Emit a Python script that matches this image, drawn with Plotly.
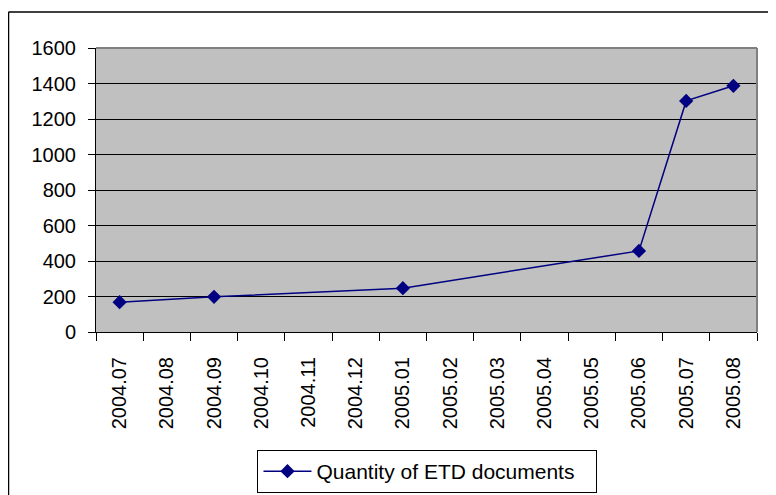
import plotly.graph_objects as go

categories = ["2004.07", "2004.08", "2004.09", "2004.10", "2004.11", "2004.12",
              "2005.01", "2005.02", "2005.03", "2005.04", "2005.05", "2005.06",
              "2005.07", "2005.08"]
months = ["2004.07", "2004.09", "2005.01", "2005.06", "2005.07", "2005.08"]
quantity = [168, 198, 247, 457, 1302, 1387]
series_name = "Quantity of ETD documents"

FONT = "Arial, 'Liberation Sans', sans-serif"
NAVY = "#000080"

# page body has an 8px margin; figure is sized to compensate
L, T, PW, PH = 88, 40, 661, 284

def px(x):
    return (x - L) / PW

def py(y):
    return (T + PH - y) / PH

fig = go.Figure()
fig.add_trace(go.Scatter(
    x=months, y=quantity, name=series_name, mode="lines+markers",
    line=dict(color=NAVY, width=1.5),
    marker=dict(symbol="diamond", size=11, color=NAVY),
    showlegend=True,
))

fig.update_layout(
    width=768, height=487,
    margin=dict(l=L, r=768 - L - PW, t=T, b=487 - T - PH, autoexpand=False),
    paper_bgcolor="white", plot_bgcolor="#C0C0C0",
    font=dict(family=FONT, size=20, color="black"),
    showlegend=True,
    legend=dict(x=0.5015, xanchor="center", y=py(442), yanchor="top",
                orientation="h", entrywidth=275, entrywidthmode="pixels",
                bgcolor="white", bordercolor="black", borderwidth=1,
                font=dict(family=FONT, size=21, color="black"),
                itemwidth=48),
    xaxis=dict(type="category", categoryorder="array", categoryarray=categories,
               range=[-0.5, len(categories) - 0.5],
               tickvals=categories,
               showgrid=False, zeroline=False,
               showline=True, linecolor="black", linewidth=1,
               ticks="outside", ticklen=8, tickcolor="black", tickwidth=1,
               tickson="boundaries", tickangle=-90, ticklabelstandoff=16,
               tickfont=dict(family=FONT, size=20, color="black")),
    yaxis=dict(range=[0, 1600], dtick=200, tick0=0,
               showgrid=True, gridcolor="black", gridwidth=1,
               zeroline=False,
               showline=True, linecolor="black", linewidth=1,
               ticks="outside", ticklen=7, tickcolor="black", tickwidth=1,
               ticklabelstandoff=8,
               tickfont=dict(family=FONT, size=20, color="black")),
    shapes=[
        dict(type="line", xref="paper", yref="paper", x0=0, x1=1, y0=1, y1=1,
             line=dict(color="#808080", width=2), layer="above"),
        dict(type="line", xref="paper", yref="paper", x0=1, x1=1, y0=0, y1=1,
             line=dict(color="#808080", width=2), layer="above"),
        dict(type="line", xref="paper", yref="paper",
             x0=px(0.5), x1=px(0.5), y0=py(4), y1=py(520),
             line=dict(color="black", width=1.5)),
        dict(type="line", xref="paper", yref="paper",
             x0=px(0.5), x1=px(800), y0=py(4), y1=py(4),
             line=dict(color="black", width=1.5)),
    ],
)

fig.write_html("out.html")
